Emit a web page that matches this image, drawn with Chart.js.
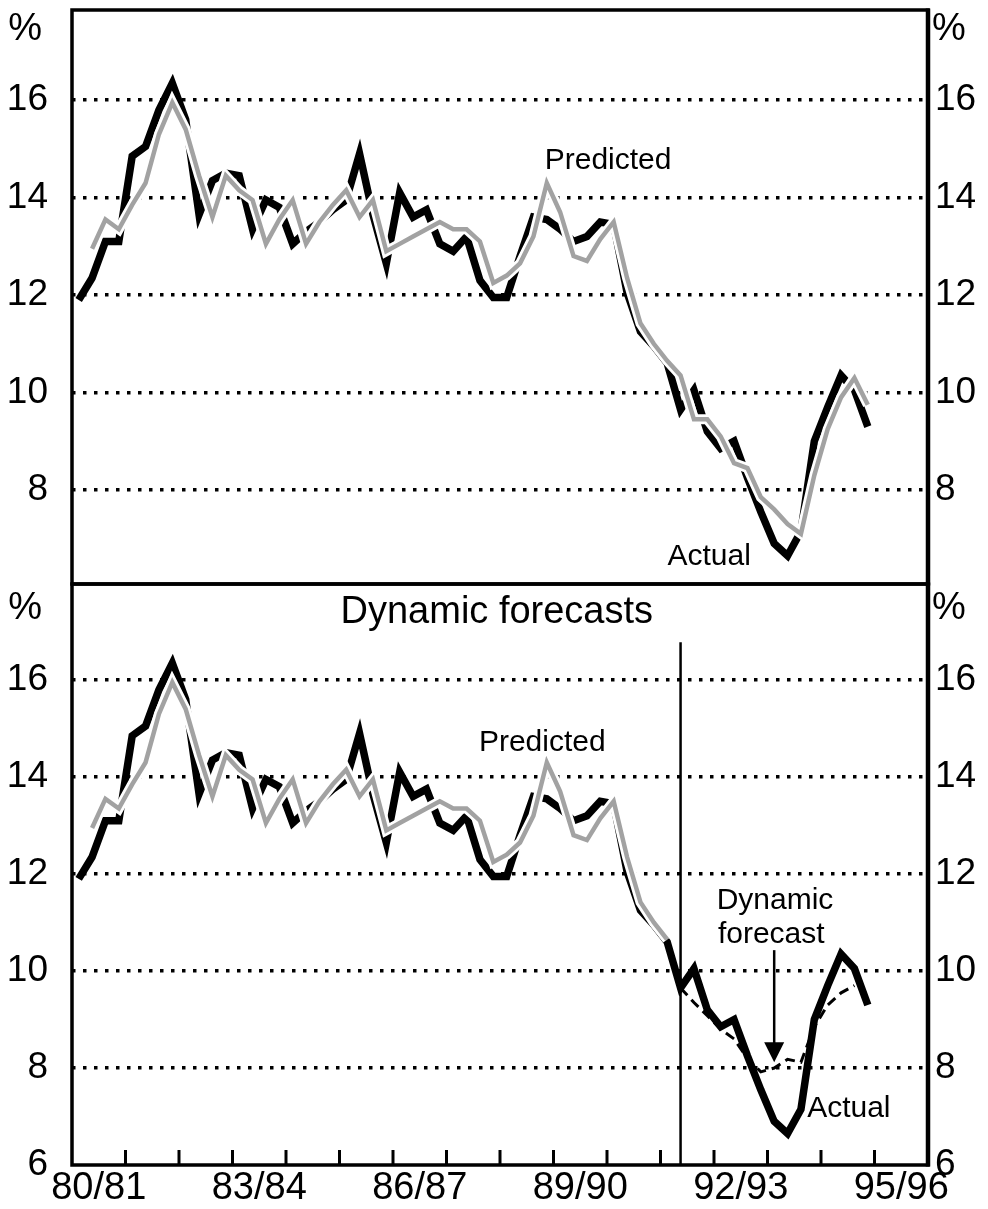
<!DOCTYPE html>
<html>
<head>
<meta charset="utf-8">
<script src="https://cdn.jsdelivr.net/npm/chart.js@4.4.0/dist/chart.umd.min.js"></script>
<style>
  html, body { margin: 0; padding: 0; background: #fff; }
  #wrap { position: relative; width: 988px; height: 1209px; }
  canvas { position: absolute; left: 0; }
  #topChart { top: 0; }
  #bottomChart { top: 574px; }
</style>
</head>
<body>
<div id="wrap">
  <canvas id="bottomChart" width="988" height="635"></canvas>
  <canvas id="topChart" width="988" height="600"></canvas>
</div>
<script>
// financial years on the x axis, labels every third year
const years = ['80/81', '81/82', '82/83', '83/84', '84/85', '85/86', '86/87', '87/88',
               '88/89', '89/90', '90/91', '91/92', '92/93', '93/94', '94/95', '95/96'];
const labelledYears = ['80/81', '83/84', '86/87', '89/90', '92/93', '95/96'];

// quarterly observations
const quarters = [
  'Sep-80', 'Dec-80', 'Mar-81', 'Jun-81', 'Sep-81', 'Dec-81', 'Mar-82', 'Jun-82',
  'Sep-82', 'Dec-82', 'Mar-83', 'Jun-83', 'Sep-83', 'Dec-83', 'Mar-84', 'Jun-84',
  'Sep-84', 'Dec-84', 'Mar-85', 'Jun-85', 'Sep-85', 'Dec-85', 'Mar-86', 'Jun-86',
  'Sep-86', 'Dec-86', 'Mar-87', 'Jun-87', 'Sep-87', 'Dec-87', 'Mar-88', 'Jun-88',
  'Sep-88', 'Dec-88', 'Mar-89', 'Jun-89', 'Sep-89', 'Dec-89', 'Mar-90', 'Jun-90',
  'Sep-90', 'Dec-90', 'Mar-91', 'Jun-91', 'Sep-91', 'Dec-91', 'Mar-92', 'Jun-92',
  'Sep-92', 'Dec-92', 'Mar-93', 'Jun-93', 'Sep-93', 'Dec-93', 'Mar-94', 'Jun-94',
  'Sep-94', 'Dec-94', 'Mar-95', 'Jun-95'
];

const actual = [
  11.9, 12.35, 13.1, 13.1, 14.85, 15.05, 15.8, 16.35, 15.6, 13.65,
  14.35, 14.5, 14.45, 13.35, 13.95, 13.8, 13.05, 13.3, 13.5, 13.75,
  13.95, 14.9, 13.65, 12.65, 14.1, 13.6, 13.75, 13.05, 12.9, 13.2,
  12.3, 11.95, 11.95, 12.8, 13.6, 13.55, 13.35, 13.1, 13.2, 13.5,
  13.45, 12.05, 11.25, 10.95, 10.6, 9.65, 10.05, 9.2, 8.85, 9.0,
  8.25, 7.55, 6.9, 6.65, 7.15, 9.0, 9.7, 10.35, 10.05, 9.3
];

const predicted = [
  null, 12.95, 13.55, 13.35, 13.85, 14.3, 15.3, 15.95, 15.4, 14.45,
  13.6, 14.45, 14.15, 13.95, 13.05, 13.55, 13.95, 13.05, 13.5, 13.85,
  14.15, 13.6, 13.95, 12.9, 13.05, 13.2, 13.35, 13.5, 13.35, 13.35,
  13.1, 12.25, 12.4, 12.65, 13.2, 14.3, 13.7, 12.8, 12.7, 13.15,
  13.5, 12.35, 11.42, 11.0, 10.65, 10.35, 9.45, 9.45, 9.1, 8.55,
  8.45, 7.85, 7.6, 7.3, 7.1, 8.3, 9.25, 9.9, 10.3, 9.75
];

// dynamic forecast starts at this quarter
const forecastStart = 'Dec-91';
const dynamicForecast = [9.65, 9.35, 9.08, 8.8, 8.6, 8.2, 7.92, 8.0, 8.18, 8.12, 8.85, 9.3, 9.55, 9.7];

const yTicksTop = [8, 10, 12, 14, 16];
const yTicksBottom = [6, 8, 10, 12, 14, 16];

const FONT = "'Liberation Sans', Arial, Helvetica, sans-serif";
const MONTH = { Mar: 3, Jun: 6, Sep: 9, Dec: 12 };

// x position in years from July 1980, at the middle of the quarter
function qx(label) {
  const [m, yy] = label.split('-');
  return 1900 + Number(yy) + MONTH[m] / 12 - 1980.5 - 0.125;
}

function points(values, from) {
  return values.map((v, i) => ({ x: qx(quarters[from + i]), y: v }));
}

const frame = {
  id: 'frame',
  afterDatasetsDraw(chart) {
    const { ctx, chartArea: a } = chart;
    ctx.save();
    ctx.strokeStyle = '#000';
    ctx.lineWidth = 3.5;
    ctx.strokeRect(a.left, a.top, a.right - a.left, a.bottom - a.top);
    ctx.lineWidth = 4.5;
    ctx.beginPath();
    ctx.moveTo(a.right, a.top - 1.5);
    ctx.lineTo(a.right, a.bottom + 1.5);
    ctx.stroke();
    ctx.restore();
  }
};

// texts, lines and arrows placed through the chart's scales
function decorations(cfg) {
  return {
    id: 'decorations',
    afterDatasetsDraw(chart) {
      const { ctx, chartArea: a, scales } = chart;
      const xs = scales.x, ys = scales.y;
      ctx.save();
      ctx.fillStyle = '#000';
      ctx.strokeStyle = '#000';

      // % unit labels
      ctx.font = '38px ' + FONT;
      ctx.textBaseline = 'middle';
      ctx.textAlign = 'right';
      ctx.fillText('%', scales.y.right - 30, a.top + cfg.unitOffset);
      ctx.textAlign = 'left';
      ctx.fillText('%', scales.y2.left + 4, a.top + cfg.unitOffset);

      // year tick marks pointing into the plot
      if (cfg.yearTicks) {
        ctx.lineWidth = 3;
        for (let i = 1; i < years.length; i++) {
          const px = xs.getPixelForValue(i);
          ctx.beginPath();
          ctx.moveTo(px, a.bottom);
          ctx.lineTo(px, a.bottom - 15);
          ctx.stroke();
        }
      }

      (cfg.vlines || []).forEach(l => {
        const px = xs.getPixelForValue(l.x);
        ctx.lineWidth = 2.5;
        ctx.beginPath();
        ctx.moveTo(px, ys.getPixelForValue(l.from));
        ctx.lineTo(px, a.bottom);
        ctx.stroke();
      });

      (cfg.arrows || []).forEach(ar => {
        const px = xs.getPixelForValue(ar.x);
        const y0 = ys.getPixelForValue(ar.from);
        const y1 = ys.getPixelForValue(ar.to);
        ctx.lineWidth = 2.5;
        ctx.beginPath();
        ctx.moveTo(px, y0);
        ctx.lineTo(px, y1 - 18);
        ctx.stroke();
        ctx.beginPath();
        ctx.moveTo(px - 10, y1 - 20);
        ctx.lineTo(px + 10, y1 - 20);
        ctx.lineTo(px, y1);
        ctx.closePath();
        ctx.fill();
      });

      ctx.textAlign = 'center';
      (cfg.texts || []).forEach(t => {
        ctx.font = t.size + 'px ' + FONT;
        ctx.fillText(t.text, xs.getPixelForValue(t.x), ys.getPixelForValue(t.y));
      });
      ctx.restore();
    }
  };
}

function makePanel(id, cfg) {
  const datasets = [];
  if (cfg.dynamic) {
    datasets.push({
      data: cfg.dynamic, borderColor: '#000', borderWidth: 3,
      borderDash: [10, 6], order: 0
    });
  }
  datasets.push(
    { data: cfg.predicted, borderColor: '#a2a2a2', borderWidth: 4.5, order: 1 },
    { data: cfg.predicted, borderColor: '#fff', borderWidth: 10, order: 2 },
    { data: cfg.actual, borderColor: '#000', borderWidth: 7.5, order: 3 }
  );
  datasets.forEach(d => { d.pointRadius = 0; d.tension = 0; d.fill = false; d.spanGaps = false; });

  // axis widths are fixed and label overflow padding is dropped so the plot frame sits exactly
  const fixY = w => s => { s.width = w; s.paddingTop = 0; s.paddingBottom = 0; };

  const yCommon = {
    min: cfg.min,
    max: cfg.max,
    afterBuildTicks: s => { s.ticks = cfg.yTicks.map(v => ({ value: v })); },
    border: { display: false, dash: [3.5, 7.5] },
    ticks: { color: '#000', font: { family: FONT, size: 37 } }
  };

  return new Chart(document.getElementById(id), {
    type: 'line',
    data: { datasets },
    options: {
      responsive: false,
      animation: false,
      events: [],
      layout: { padding: { top: 10, bottom: cfg.padBottom, left: 0, right: 0 } },
      plugins: { legend: { display: false }, tooltip: { enabled: false } },
      scales: {
        x: {
          type: 'linear',
          min: 0,
          max: years.length,
          display: cfg.showX,
          grid: { display: false },
          border: { display: false },
          afterBuildTicks: s => {
            s.ticks = labelledYears.map(l => ({ value: years.indexOf(l) + 0.5 }));
          },
          afterFit: s => {
            s.height = cfg.showX ? 44 : 0;
            s.paddingLeft = 0; s.paddingRight = 0;
          },
          ticks: {
            autoSkip: false, maxRotation: 0, padding: -7, color: '#000',
            font: { family: FONT, size: 38 },
            callback: v => years[Math.floor(v)]
          }
        },
        y: Object.assign({}, yCommon, {
          position: 'left',
          afterFit: fixY(72),
          grid: {
            drawTicks: false,
            lineWidth: 3.5,
            color: c => (c.tick && c.tick.value > cfg.min + 0.5 ? '#000' : 'rgba(0,0,0,0)')
          },
          ticks: Object.assign({}, yCommon.ticks, { padding: 24 })
        }),
        y2: Object.assign({}, yCommon, {
          position: 'right',
          afterFit: fixY(60),
          grid: { display: false, drawTicks: false },
          ticks: Object.assign({}, yCommon.ticks, { padding: 7 })
        })
      }
    },
    plugins: [frame, decorations(cfg.deco)]
  });
}

const startIdx = quarters.indexOf(forecastStart);

makePanel('topChart', {
  min: 6.07, max: 17.85, yTicks: yTicksTop, showX: false, padBottom: 16,
  actual: points(actual, 0),
  predicted: points(predicted, 0),
  deco: {
    unitOffset: 20,
    texts: [
      { text: 'Predicted', x: 10.02, y: 14.75, size: 30 },
      { text: 'Actual', x: 11.91, y: 6.63, size: 30 }
    ]
  }
});

makePanel('bottomChart', {
  min: 6, max: 17.98, yTicks: yTicksBottom, showX: true, padBottom: 0,
  actual: points(actual, 0),
  predicted: points(predicted.slice(0, startIdx), 0),
  dynamic: points(dynamicForecast, startIdx),
  deco: {
    unitOffset: 25,
    yearTicks: true,
    vlines: [{ x: qx(forecastStart), from: 16.78 }],
    arrows: [{ x: qx('Sep-93'), from: 10.43, to: 8.12 }],
    texts: [
      { text: 'Dynamic forecasts', x: 7.94, y: 17.4, size: 38 },
      { text: 'Predicted', x: 8.79, y: 14.71, size: 30 },
      { text: 'Dynamic', x: 13.14, y: 11.44, size: 30 },
      { text: 'forecast', x: 13.07, y: 10.74, size: 30 },
      { text: 'Actual', x: 14.52, y: 7.16, size: 30 }
    ]
  }
});
</script>
</body>
</html>
